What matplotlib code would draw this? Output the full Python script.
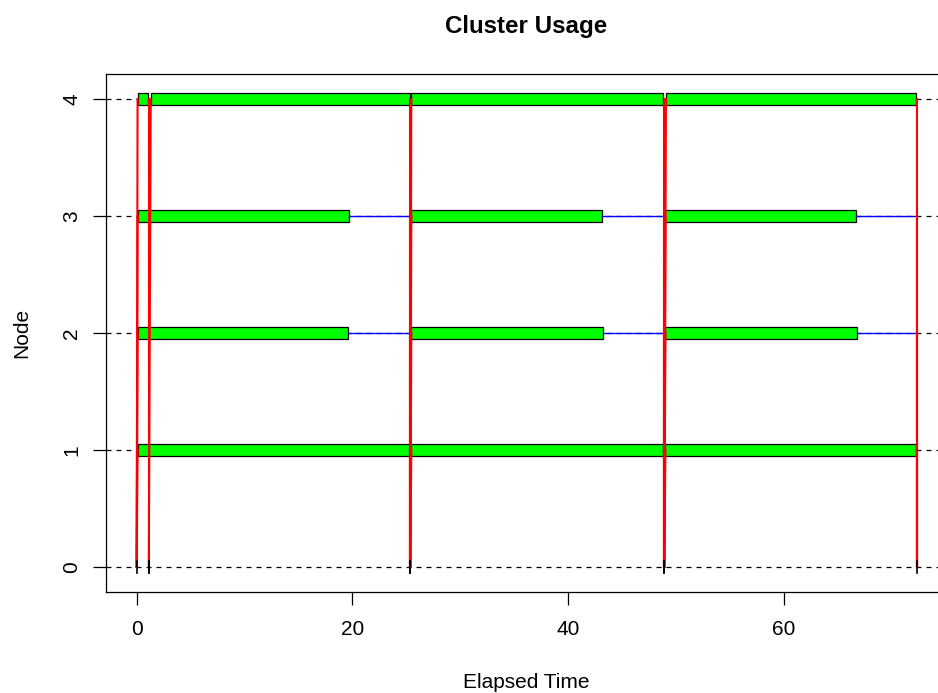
import matplotlib
matplotlib.use("Agg")
import matplotlib.pyplot as plt
from matplotlib.patches import Rectangle

plt.rcParams['font.family'] = ['Liberation Sans', 'DejaVu Sans']

# one row per task: which node ran it and the timings (seconds)
task_node = [1, 2, 3, 4, 4, 1, 2, 3, 4, 1, 2, 3, 4]
send_time = [0.0, 0.0, 0.0, 0.0, 1.12, 25.36, 25.36, 25.36, 25.36, 48.9, 48.9, 48.9, 48.9]
start_time = [0.08, 0.08, 0.08, 0.08, 1.3, 25.45, 25.45, 25.45, 25.45, 49.0, 49.0, 49.0, 49.05]
end_time = [25.3, 19.55, 19.72, 1.08, 25.3, 48.82, 43.22, 43.08, 48.82, 72.2, 66.78, 66.7, 72.2]
return_time = [25.34, 25.34, 25.34, 1.1, 25.34, 48.88, 48.88, 48.88, 48.88, 72.3, 72.3, 72.3, 72.3]
elapsed = 72.3
n_nodes = 4

node_ticks = [0, 1, 2, 3, 4]
time_ticks = [0, 20, 40, 60]

W, H = 938, 693
fig = plt.figure(figsize=(W / 100, H / 100), dpi=100)
left, right, top, bottom = 105.5, 948.0, 74.0, 592.0
ax = fig.add_axes([left / W, 1 - bottom / H, (right - left) / W, (bottom - top) / H])

w2 = 0.05
# R style 4% padding of the data range
xr = elapsed * 0.04
yr = (n_nodes + 2 * w2) * 0.04
ax.set_xlim(0 - xr, elapsed + xr)
ax.set_ylim(-w2 - yr, n_nodes + w2 + yr)

for y in node_ticks:
    ax.axhline(y, color='black', lw=0.9, ls=(0, (4, 4)), zorder=1)

for i in range(len(task_node)):
    nd = task_node[i]
    ax.add_patch(Rectangle((start_time[i], nd - w2), end_time[i] - start_time[i], 2 * w2,
                           facecolor='#00ff00', edgecolor='black', lw=0.9, zorder=2))
    ax.plot([end_time[i], return_time[i]], [nd, nd], color='blue', lw=1.0, zorder=3)
    # master -> node and node -> master
    ax.plot([send_time[i], start_time[i]], [0, nd], color='red', lw=1.5, zorder=4)
    ax.plot([return_time[i], return_time[i]], [nd, 0], color='red', lw=1.5, zorder=4)

# master activity on row 0
master_t = sorted(set(send_time + return_time))
for t in master_t:
    ax.plot([t, t], [-w2, w2], color='black', lw=1.2, zorder=5)

ax.set_xticks(time_ticks)
ax.set_xticklabels([str(t) for t in time_ticks])
ax.set_yticks(node_ticks)
ax.set_yticklabels([str(t) for t in node_ticks], rotation=90, va='center')
ax.tick_params(axis='both', labelsize=15, length=9.5, width=0.9, direction='out')
ax.tick_params(axis='x', pad=11)
ax.tick_params(axis='y', pad=8)
for s in ax.spines.values():
    s.set_linewidth(0.9)
ax.spines['right'].set_visible(False)

fig.text(526.5 / W, 1 - 33 / H, 'Cluster Usage', ha='center', va='baseline',
         fontsize=17.4, fontweight='bold')
fig.text(526.5 / W, 1 - 688 / H, 'Elapsed Time', ha='center', va='baseline', fontsize=15)
fig.text(27 / W, 1 - 333 / H, 'Node', rotation=90, rotation_mode='anchor',
         ha='center', va='baseline', fontsize=15)

fig.savefig('out.png', dpi=100)
